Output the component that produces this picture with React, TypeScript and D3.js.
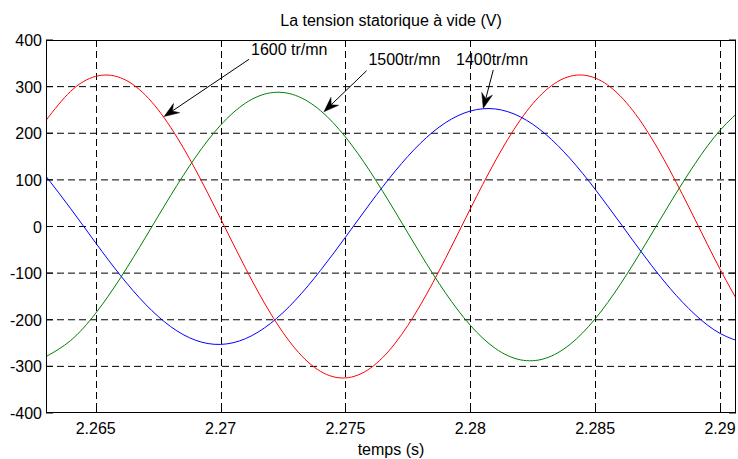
import React from "react";
import * as d3 from "d3";

// Sample instants (s)
const times = [
  2.263, 2.264, 2.265, 2.266, 2.267, 2.268, 2.269, 2.27, 2.271, 2.272,
  2.273, 2.274, 2.275, 2.276, 2.277, 2.278, 2.279, 2.28, 2.281, 2.282,
  2.283, 2.284, 2.285, 2.286, 2.287, 2.288, 2.289, 2.29, 2.291,
];

// No-load stator voltage (V) at 1600 tr/mn
const v1600 = [
  226.8, 290.1, 322.0, 318.9, 281.2, 212.9, 121.6, 17.0, -89.4, -186.1,
  -262.6, -310.6, -324.8, -303.8, -249.8, -168.7, -69.3, 37.7, 140.5, 228.2,
  291.0, 322.2, 318.5, 280.2, 211.5, 119.7, 15.1, -91.3, -187.7,
];

// No-load stator voltage (V) at 1500 tr/mn
const v1500 = [
  -279.3, -244.4, -186.0, -109.6, -22.8, 66.3, 148.9, 217.3, 264.7, 286.7,
  281.2, 248.6, 192.1, 117.1, 30.9, -58.3, -141.9, -211.8, -261.4, -285.9,
  -282.9, -252.6, -198.1, -124.6, -39.1, 50.2, 134.7, 206.2, 257.8,
];

// No-load stator voltage (V) at 1400 tr/mn
const v1400 = [
  108.4, 38.2, -35.2, -105.6, -167.1, -214.6, -244.0, -252.9, -240.5, -207.9,
  -157.8, -94.3, -23.0, 50.3, 119.3, 178.4, 222.4, 247.6, 252.1, 235.3,
  198.7, 145.4, 79.9, 7.6, -65.3, -132.7, -188.9, -229.3, -250.3,
];

const xTicks = [2.265, 2.27, 2.275, 2.28, 2.285, 2.29];
const xTickLabels = ["2.265", "2.27", "2.275", "2.28", "2.285", "2.29"];
const yTicks = [400, 300, 200, 100, 0, -100, -200, -300, -400];
const yTickLabels = ["400", "300", "200", "100", "0", "-100", "-200", "-300", "-400"];

const seriesColors = ["#ff0000", "#008000", "#0000ff"];

// Speed annotations: label anchor, arrow tail and arrow tip in data units
const annLabels = ["1600 tr/mn", "1500tr/mn", "1400tr/mn"];
const annLabelT = [2.27122, 2.27592, 2.27943];
const annLabelV = [367.8, 346.4, 346.4];
const annTailT = [2.27114, 2.27585, 2.28092];
const annTailV = [358.6, 334.2, 335.7];
const annTipT = [2.26774, 2.27414, 2.28052];
const annTipV = [235.9, 246.2, 253.5];

const W = 738;
const H = 459;
const plot = { left: 46, right: 736, top: 40, bottom: 413 };
const font = "'Liberation Sans', Arial, sans-serif";

export default function App() {
  const x = d3.scaleLinear().domain([2.26301, 2.29064]).range([plot.left, plot.right]);
  const y = d3.scaleLinear().domain([-400, 400]).range([plot.bottom, plot.top]);

  const line = d3
    .line<number>()
    .x((_, i) => x(times[i]))
    .y((d) => y(d))
    .curve(d3.curveNatural);

  const series = [v1600, v1500, v1400];
  const tickLen = 7;
  const dash = "7,4";

  const arrowHead = (tx: number, ty: number, fx: number, fy: number) => {
    const ang = Math.atan2(ty - fy, tx - fx);
    const len = 15;
    const half = 5.5;
    const notch = 10;
    const bx = tx - len * Math.cos(ang);
    const by = ty - len * Math.sin(ang);
    const nx = tx - notch * Math.cos(ang);
    const ny = ty - notch * Math.sin(ang);
    const px = -Math.sin(ang);
    const py = Math.cos(ang);
    return {
      path: `M${tx},${ty}L${bx + px * half},${by + py * half}L${nx},${ny}L${bx - px * half},${by - py * half}Z`,
      nx,
      ny,
    };
  };

  return (
    <svg
      width={W}
      height={H}
      style={{ position: "absolute", left: 0, top: 0, background: "#fff" }}
      fontFamily={font}
    >
      <defs>
        <clipPath id="plotClip">
          <rect
            x={plot.left}
            y={plot.top}
            width={plot.right - plot.left}
            height={plot.bottom - plot.top}
          />
        </clipPath>
      </defs>
      <rect width={W} height={H} fill="#fff" />

      {/* grid */}
      <g stroke="#000" strokeWidth={1} strokeDasharray={dash}>
        {xTicks.map((t) => (
          <line
            key={"gx" + t}
            x1={Math.round(x(t)) + 0.5}
            x2={Math.round(x(t)) + 0.5}
            y1={plot.top}
            y2={plot.bottom}
          />
        ))}
        {yTicks
          .filter((v) => v !== 400 && v !== -400)
          .map((v) => (
            <line key={"gy" + v} x1={plot.left} x2={plot.right} y1={y(v)} y2={y(v)} />
          ))}
      </g>

      {/* curves */}
      <g clipPath="url(#plotClip)" fill="none" strokeWidth={1}>
        {series.map((s, i) => (
          <path key={i} d={line(s) || ""} stroke={seriesColors[i]} />
        ))}
      </g>

      {/* axes box and ticks */}
      <rect
        x={plot.left + 0.5}
        y={plot.top + 0.5}
        width={plot.right - plot.left - 1}
        height={plot.bottom - plot.top - 1}
        fill="none"
        stroke="#000"
        strokeWidth={1}
      />
      <g stroke="#000" strokeWidth={1}>
        {xTicks.map((t) => (
          <g key={"tx" + t}>
            <line
              x1={Math.round(x(t)) + 0.5}
              x2={Math.round(x(t)) + 0.5}
              y1={plot.bottom}
              y2={plot.bottom - tickLen}
            />
            <line
              x1={Math.round(x(t)) + 0.5}
              x2={Math.round(x(t)) + 0.5}
              y1={plot.top}
              y2={plot.top + tickLen}
            />
          </g>
        ))}
        {yTicks.map((v) => (
          <g key={"ty" + v}>
            <line x1={plot.left} x2={plot.left + tickLen} y1={y(v)} y2={y(v)} />
            <line x1={plot.right} x2={plot.right - tickLen} y1={y(v)} y2={y(v)} />
          </g>
        ))}
      </g>

      {/* tick labels */}
      <g fontSize={16} fill="#000">
        {xTicks.map((t, i) => (
          <text key={"lx" + t} x={x(t)} y={434} textAnchor="middle">
            {xTickLabels[i]}
          </text>
        ))}
        {yTicks.map((v, i) => (
          <text key={"ly" + v} x={42} y={y(v) + 6} textAnchor="end">
            {yTickLabels[i]}
          </text>
        ))}
      </g>

      {/* title and axis label */}
      <text x={(plot.left + plot.right) / 2} y={26} textAnchor="middle" fontSize={16}>
        La tension statorique à vide (V)
      </text>
      <text x={(plot.left + plot.right) / 2} y={455} textAnchor="middle" fontSize={16}>
        temps (s)
      </text>

      {/* annotations */}
      {annLabels.map((lab, i) => {
        const tx = x(annTipT[i]);
        const ty = y(annTipV[i]);
        const fx = x(annTailT[i]);
        const fy = y(annTailV[i]);
        const head = arrowHead(tx, ty, fx, fy);
        return (
          <g key={lab}>
            <line x1={fx} y1={fy} x2={head.nx} y2={head.ny} stroke="#000" strokeWidth={1} />
            <path d={head.path} fill="#000" stroke="#000" strokeWidth={0.5} />
            <text x={x(annLabelT[i])} y={y(annLabelV[i])} fontSize={16} fill="#000">
              {lab}
            </text>
          </g>
        );
      })}
    </svg>
  );
}
